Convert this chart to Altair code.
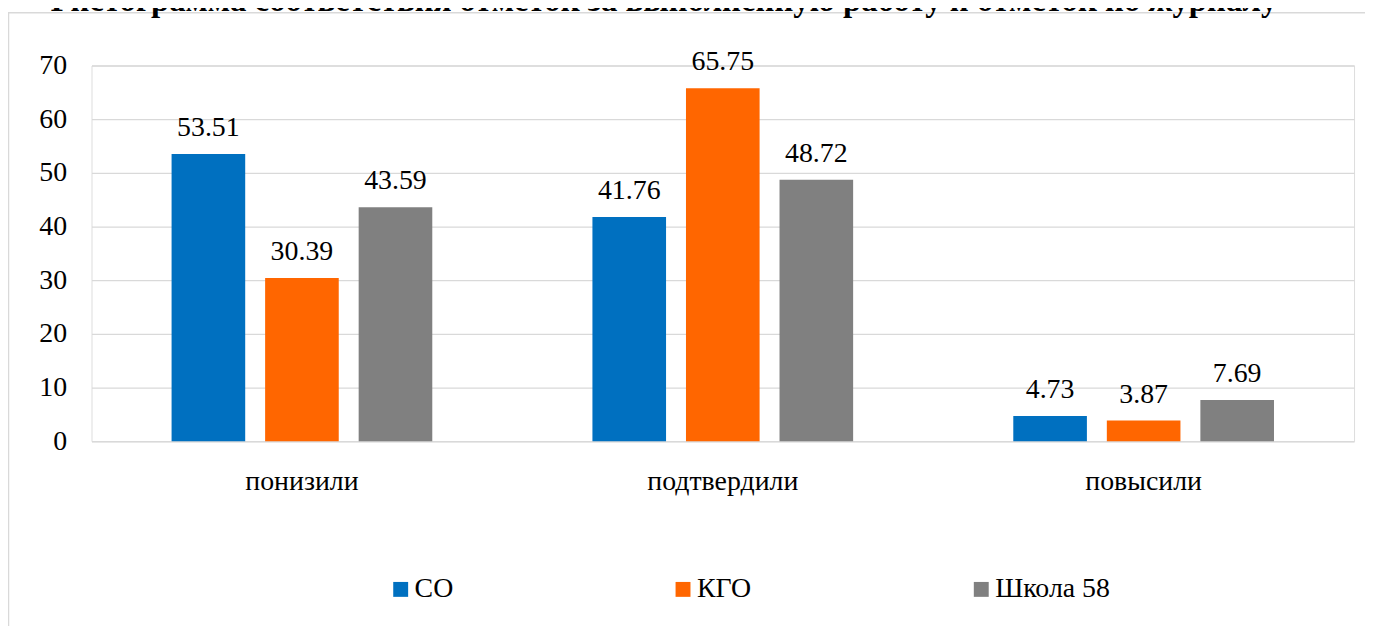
import altair as alt
import pandas as pd

title_text = "Гистограмма соответствия отметок за выполненную работу и отметок по журналу"
categories = ["понизили", "подтвердили", "повысили"]
series = ["СО", "КГО", "Школа 58"]
values_co = [53.51, 41.76, 4.73]
values_kgo = [30.39, 65.75, 3.87]
values_sch = [43.59, 48.72, 7.69]
colors = ["#0070C0", "#FF6600", "#808080"]
y_ticks = [0, 10, 20, 30, 40, 50, 60, 70]

rows = []
for s, vals in zip(series, [values_co, values_kgo, values_sch]):
    for c, v in zip(categories, vals):
        rows.append({"cat": c, "series": s, "value": v, "label": f"{v:.2f}"})
df = pd.DataFrame(rows)

FONT = "Liberation Serif"
W, H = 1270, 378

x_enc = alt.X("cat:N", sort=categories, title=None,
              scale=alt.Scale(paddingInner=0, paddingOuter=0),
              axis=alt.Axis(labelAngle=0, ticks=False, tickSize=0, domain=False,
                            labelPadding=27, labelFontSize=28, labelFont=FONT,
                            labelColor="#000000", grid=False))
xo_enc = alt.XOffset("series:N", sort=series,
                     scale=alt.Scale(paddingInner=0.213, paddingOuter=0.856))
y_enc = alt.Y("value:Q", title=None,
              scale=alt.Scale(domain=[0, 70], nice=False),
              axis=alt.Axis(values=y_ticks, ticks=False, tickSize=0, domain=False,
                            labelPadding=25, labelFontSize=28, labelFont=FONT,
                            labelColor="#000000", grid=True, gridColor="#d9d9d9",
                            gridWidth=1.3))

base = alt.Chart(df)

bars = base.mark_bar().encode(
    x=x_enc, xOffset=xo_enc, y=y_enc,
    color=alt.Color("series:N", sort=series,
                    scale=alt.Scale(domain=series, range=colors),
                    legend=alt.Legend(title=None, orient="none", legendX=297, legendY=513,
                                      direction="horizontal", columns=3,
                                      symbolType="square", symbolSize=225,
                                      symbolStrokeWidth=0, symbolOpacity=1,
                                      labelFontSize=28, labelFont=FONT,
                                      labelColor="#000000", columnPadding=217,
                                      labelOffset=0, padding=0)),
)

labels = base.mark_text(dy=-18, baseline="alphabetic", fontSize=28, font=FONT,
                        color="#000000").encode(
    x=alt.X("cat:N", sort=categories), xOffset=alt.XOffset("series:N", sort=series),
    y="value:Q", text="label:N",
)

frame_df = pd.DataFrame({"k": [0]})
frame = alt.Chart(frame_df).mark_rect(fill=None, stroke="#d9d9d9", strokeWidth=1.5).encode(
    x=alt.value(-83.5), x2=alt.value(1400), y=alt.value(-53), y2=alt.value(700)
)

title_df = pd.DataFrame({"t": [title_text]})
title = alt.Chart(title_df).mark_text(fontSize=33, font=FONT, fontWeight="bold",
                                      baseline="alphabetic", align="center",
                                      color="#000000").encode(
    x=alt.value(576), y=alt.value(-55), text="t:N"
)

chart = alt.layer(frame, bars, labels, title).properties(
    width=W, height=H,
    autosize=alt.AutoSizeParams(type="none"),
    padding={"left": 84, "top": 56, "right": 11, "bottom": 184},
).configure_view(stroke=None).configure(background="#ffffff")

chart.save("out.html", embed_options={"renderer": "svg", "actions": False})
